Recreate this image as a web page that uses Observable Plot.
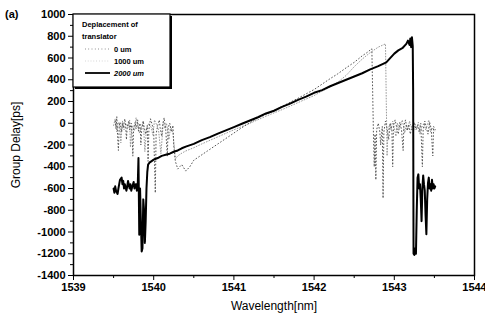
<!DOCTYPE html>
<html><head><meta charset="utf-8">
<script src="https://cdn.jsdelivr.net/npm/d3@7"></script>
<script src="https://cdn.jsdelivr.net/npm/@observablehq/plot@0.6"></script>
<style>body{margin:0;background:#fff}</style>
</head><body><div id="chart"></div>
<script>
// ---- data ----
const series = ["0 um", "1000 um", "2000 um"];
const xTicks = [1539, 1540, 1541, 1542, 1543, 1544];
const xMinor = [1539.5, 1540.5, 1541.5, 1542.5, 1543.5];
const yTicks = [-1400, -1200, -1000, -800, -600, -400, -200, 0, 200, 400, 600, 800, 1000];
const yMinor = [-1300, -1100, -900, -700, -500, -300, -100, 100, 300, 500, 700, 900];

// 2000 um (solid)
const wl2000 = [1539.50,1539.51,1539.52,1539.53,1539.55,1539.56,1539.57,1539.58,1539.60,1539.61,1539.62,1539.63,1539.64,1539.66,1539.67,1539.68,1539.70,1539.71,1539.72,1539.73,1539.75,1539.76,1539.78,1539.79,1539.80,1539.81,1539.82,1539.83,1539.84,1539.85,1539.86,1539.87,1539.88,1539.89,1539.90,1539.91,1539.92,1539.93,1539.95,1539.97,1540.0,1540.05,1540.1,1540.15,1540.2,1540.25,1540.3,1540.35,1540.4,1540.5,1540.6,1540.7,1540.8,1540.9,1541.0,1541.1,1541.2,1541.3,1541.4,1541.5,1541.6,1541.7,1541.8,1541.9,1542.0,1542.1,1542.2,1542.3,1542.4,1542.5,1542.6,1542.7,1542.8,1542.9,1543.0,1543.05,1543.1,1543.15,1543.17,1543.19,1543.2,1543.21,1543.22,1543.23,1543.235,1543.24,1543.25,1543.26,1543.27,1543.28,1543.29,1543.30,1543.31,1543.32,1543.33,1543.34,1543.35,1543.36,1543.37,1543.38,1543.39,1543.40,1543.41,1543.42,1543.43,1543.44,1543.45,1543.46,1543.47,1543.48,1543.49,1543.50,1543.51];
const gd2000 = [-600,-640,-580,-620,-650,-600,-560,-520,-500,-560,-530,-600,-560,-620,-580,-530,-600,-560,-620,-590,-540,-600,-560,-620,-600,-320,-1025,-600,-900,-1180,-1150,-700,-800,-1100,-900,-600,-450,-380,-360,-350,-335,-320,-300,-290,-280,-262,-250,-230,-215,-190,-155,-128,-95,-65,-35,-5,25,55,90,115,150,180,215,245,280,305,340,370,400,430,460,495,525,560,640,670,690,730,760,720,780,700,790,710,300,-1200,-1210,-1150,-1200,-800,-500,-470,-600,-560,-700,-900,-600,-480,-560,-620,-850,-1020,-700,-550,-500,-600,-560,-620,-520,-600,-560,-600,-580];

// 0 um (dotted)
const wl0 = [1539.52,1539.53,1539.54,1539.55,1539.56,1539.57,1539.58,1539.60,1539.61,1539.62,1539.64,1539.65,1539.66,1539.67,1539.69,1539.70,1539.72,1539.73,1539.74,1539.75,1539.77,1539.78,1539.79,1539.80,1539.81,1539.83,1539.84,1539.85,1539.87,1539.88,1539.90,1539.92,1539.93,1539.94,1539.96,1539.98,1540.00,1540.02,1540.03,1540.05,1540.07,1540.08,1540.10,1540.11,1540.13,1540.15,1540.17,1540.18,1540.20,1540.22,1540.24,1540.25,1540.27,1540.30,1540.35,1540.40,1540.45,1540.5,1540.67,1540.8,1540.9,1541.0,1541.1,1541.17,1541.3,1541.46,1541.6,1541.8,1542.0,1542.2,1542.29,1542.4,1542.5,1542.6,1542.66,1542.72,1542.73,1542.74,1542.75,1542.76,1542.77,1542.78,1542.80,1542.82,1542.83,1542.85,1542.86,1542.87,1542.89,1542.91,1542.93,1542.95,1542.97,1542.98,1542.99,1543.01,1543.03,1543.05,1543.07,1543.09,1543.11,1543.12,1543.14,1543.16,1543.18,1543.20,1543.22,1543.25,1543.27,1543.29,1543.31,1543.33,1543.35,1543.36,1543.38,1543.40,1543.42,1543.44,1543.46,1543.48,1543.49,1543.51];
const gd0 = [20,-50,60,-120,-250,-30,10,-80,0,-40,40,-20,-150,-30,20,-60,0,-100,-300,-40,10,-50,-20,30,-70,0,-200,-60,20,-30,-100,-20,-350,-60,40,-10,-80,-640,-100,-20,30,-40,-120,-20,50,-60,-300,-40,0,-80,-20,-200,-350,-420,-380,-440,-400,-340,-255,-190,-140,-90,-40,-9,50,100,155,230,310,410,452,510,560,620,650,685,300,-100,-400,-100,-520,-60,0,-80,-200,-30,-690,-80,20,-50,-150,0,-60,-400,-20,30,-40,-100,10,-60,-250,-20,30,-70,-10,-100,-30,10,-60,-20,-80,0,-400,-60,20,-40,-100,10,-50,-300,-30,-60];

// 1000 um (dotted, lighter)
const wl1000 = [1539.50,1539.52,1539.54,1539.56,1539.58,1539.59,1539.61,1539.63,1539.65,1539.68,1539.70,1539.71,1539.73,1539.76,1539.78,1539.80,1539.82,1539.85,1539.87,1539.89,1539.91,1539.94,1539.97,1539.99,1540.01,1540.04,1540.06,1540.09,1540.12,1540.14,1540.16,1540.19,1540.21,1540.24,1540.27,1540.30,1540.35,1540.4,1540.5,1540.6,1540.8,1541.0,1541.2,1541.4,1541.6,1541.8,1542.0,1542.2,1542.3,1542.4,1542.5,1542.6,1542.7,1542.8,1542.89,1542.90,1542.91,1542.92,1542.94,1542.96,1542.98,1543.00,1543.02,1543.04,1543.06,1543.08,1543.10,1543.13,1543.15,1543.17,1543.19,1543.21,1543.24,1543.26,1543.28,1543.30,1543.32,1543.34,1543.37,1543.39,1543.41,1543.43,1543.45,1543.47,1543.50];
const gd1000 = [-20,40,-80,10,-30,-180,20,-60,0,-40,30,-220,-20,-70,50,-10,-90,-30,20,-260,-50,0,-40,-110,30,-20,-60,-280,10,-50,0,-150,-30,-90,-330,-300,-275,-255,-225,-190,-125,-60,0,65,125,190,255,335,380,440,520,590,650,700,730,200,-300,-80,-10,-60,20,-40,-120,0,-50,-20,30,-90,-10,-60,20,-30,-70,-10,-50,10,-100,-40,0,-60,-20,30,-80,-40,-70];

const rows = [
  ...wl0.map((x, i) => ({s: series[0], x, y: gd0[i]})),
  ...wl1000.map((x, i) => ({s: series[1], x, y: gd1000[i]})),
  ...wl2000.map((x, i) => ({s: series[2], x, y: gd2000[i]}))
];

const FONT = "'Liberation Sans', Arial, sans-serif";
const chart = Plot.plot({
  width: 485, height: 321,
  marginLeft: 73, marginRight: 11, marginTop: 14, marginBottom: 46,
  style: {fontFamily: FONT, fontSize: "11px", color: "#000", background: "#fff"},
  x: {domain: [1539, 1544]},
  y: {domain: [-1400, 1000]},
  marks: [
    Plot.line(rows.filter(d => d.s === series[1]), {x: "x", y: "y", stroke: "#999", strokeWidth: 1, strokeDasharray: "0.8 2"}),
    Plot.line(rows.filter(d => d.s === series[0]), {x: "x", y: "y", stroke: "#555", strokeWidth: 1, strokeDasharray: "0.8 2.5"}),
    Plot.line(rows.filter(d => d.s === series[2]), {x: "x", y: "y", stroke: "#000", strokeWidth: 2}),
    Plot.frame({stroke: "#000", strokeWidth: 1.5}),
    Plot.axisX({ticks: xTicks, tickSize: 5, tickPadding: 3, tickFormat: d => String(d), fontWeight: "bold", label: null}),
    Plot.axisX({ticks: [], label: "Wavelength[nm]", labelAnchor: "center", labelOffset: 34, labelArrow: "none", fontSize: 12}),
    Plot.axisX({ticks: xMinor, tickSize: 3, tickFormat: () => "", label: null}),
    Plot.axisY({ticks: yTicks, tickSize: 5, tickPadding: 3, tickFormat: d => String(d), fontWeight: "bold", label: null}),
    Plot.axisY({ticks: [], label: "Group Delay[ps]", labelAnchor: "center", labelOffset: 62, labelArrow: "none", fontSize: 12}),
    Plot.axisY({ticks: yMinor, tickSize: 3, tickFormat: () => "", label: null})
  ]
});
document.getElementById("chart").appendChild(chart);

// panel tag and legend drawn on the same svg
const svg = d3.select(chart);
svg.append("text").attr("x", 5).attr("y", 18).attr("font-size", 11).attr("font-weight", "bold")
  .attr("text-anchor", "start").attr("font-family", FONT).text("(a)");

const x0 = 73, y0 = 14;
const lg = svg.append("g").attr("font-family", FONT).attr("text-anchor", "start");
lg.append("rect").attr("x", x0 + 2).attr("y", y0 + 2).attr("width", 97).attr("height", 73).attr("fill", "#000");
lg.append("rect").attr("x", x0).attr("y", y0).attr("width", 97).attr("height", 73).attr("fill", "#fff").attr("stroke", "#000").attr("stroke-width", 1.2);
lg.append("text").attr("x", x0 + 9).attr("y", y0 + 13).attr("font-size", 7.5).attr("font-weight", "bold").text("Deplacement of");
lg.append("text").attr("x", x0 + 9).attr("y", y0 + 25).attr("font-size", 7.5).attr("font-weight", "bold").text("translator");
const items = [
  {t: series[0], dash: "0.8 2.5", stroke: "#777", w: 1, italic: false},
  {t: series[1], dash: "0.8 2", stroke: "#ccc", w: 1, italic: false},
  {t: series[2], dash: null, stroke: "#000", w: 1.8, italic: true}
];
items.forEach((it, i) => {
  const yy = y0 + 35 + i * 12;
  const l = lg.append("line").attr("x1", x0 + 12).attr("x2", x0 + 37).attr("y1", yy).attr("y2", yy)
    .attr("stroke", it.stroke).attr("stroke-width", it.w);
  if (it.dash) l.attr("stroke-dasharray", it.dash);
  lg.append("text").attr("x", x0 + 41).attr("y", yy + 3).attr("font-size", 7.5).attr("font-weight", "bold")
    .attr("font-style", it.italic ? "italic" : "normal").text(it.t);
});
</script>
</body></html>
